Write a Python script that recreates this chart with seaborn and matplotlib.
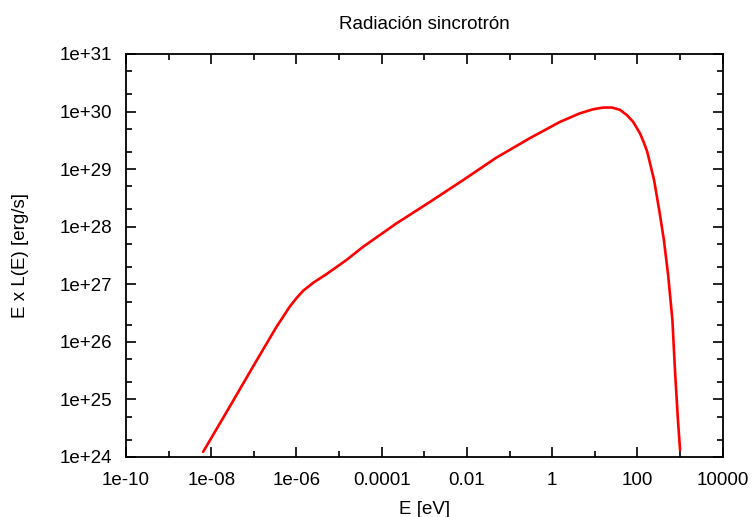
import numpy as np
import pandas as pd
import matplotlib
matplotlib.use("Agg")
import matplotlib.pyplot as plt
import matplotlib.ticker as mticker
import seaborn as sns

# --- data (log10 values) ---
log_E = [-8.19, -7.57, -7.02, -6.47, -6.16, -6.00, -5.84, -5.60, -5.29, -4.83,
         -4.44, -3.65, -2.87, -2.09, -1.31, -0.52, 0.18, 0.65, 0.96, 1.20, 1.40,
         1.59, 1.75, 1.90, 2.06, 2.14, 2.23, 2.39, 2.51, 2.62, 2.72, 2.82, 2.88,
         2.95, 3.00]
log_EL = [24.09, 24.87, 25.57, 26.26, 26.61, 26.76, 26.89, 27.03, 27.18, 27.42,
          27.65, 28.06, 28.43, 28.81, 29.20, 29.54, 29.82, 29.97, 30.04, 30.07, 30.07,
          30.03, 29.94, 29.82, 29.62, 29.48, 29.30, 28.81, 28.29, 27.77, 27.16, 26.38, 25.51,
          24.64, 24.12]

x_ticks = [1e-10, 1e-8, 1e-6, 1e-4, 1e-2, 1, 1e2, 1e4]
x_tick_labels = ["1e-10", "1e-08", "1e-06", "0.0001", "0.01", "1", "100", "10000"]
x_minor_ticks = [1e-9, 1e-7, 1e-5, 1e-3, 1e-1, 1e1, 1e3]
y_ticks = [1e24, 1e25, 1e26, 1e27, 1e28, 1e29, 1e30, 1e31]
y_tick_labels = ["1e+24", "1e+25", "1e+26", "1e+27", "1e+28", "1e+29", "1e+30", "1e+31"]

title = "Radiación sincrotrón"
xlabel = "E [eV]"
ylabel = "E x L(E) [erg/s]"

df = pd.DataFrame({"E": 10 ** np.array(log_E), "EL": 10 ** np.array(log_EL)})

sns.set_theme(style="white")
plt.rcParams["font.family"] = ["Liberation Sans", "DejaVu Sans"]

fig = plt.figure(figsize=(7.54, 5.17), dpi=100)
ax = fig.add_axes([126 / 754, (517 - 457) / 517, (722.7 - 126) / 754, (457 - 54) / 517])

sns.lineplot(data=df, x="E", y="EL", ax=ax, color="#ff0000", linewidth=1.9,
             sort=False, estimator=None)

ax.set_xscale("log")
ax.set_yscale("log")
ax.set_xlim(1e-10, 1e4)
ax.set_ylim(1e24, 1e31)

ax.xaxis.set_major_locator(mticker.FixedLocator(x_ticks))
ax.xaxis.set_major_formatter(mticker.FixedFormatter(x_tick_labels))
ax.xaxis.set_minor_locator(mticker.FixedLocator(x_minor_ticks))
ax.xaxis.set_minor_formatter(mticker.NullFormatter())

ax.yaxis.set_major_locator(mticker.FixedLocator(y_ticks))
ax.yaxis.set_major_formatter(mticker.FixedFormatter(y_tick_labels))
ax.yaxis.set_minor_locator(mticker.LogLocator(base=10, subs=(2.0, 5.0), numticks=50))
ax.yaxis.set_minor_formatter(mticker.NullFormatter())

ax.tick_params(which="both", direction="in", top=True, right=True,
               bottom=True, left=True, color="black", width=1.2)
ax.tick_params(which="major", length=7, labelsize=13.5, labelcolor="black")
ax.tick_params(axis="x", which="major", pad=10.5)
ax.tick_params(axis="y", which="major", pad=10)
ax.tick_params(which="minor", length=4)

for s in ax.spines.values():
    s.set_color("black")
    s.set_linewidth(1.3)

ax.set_xlabel(xlabel, fontsize=13.5, color="black", labelpad=9)
ax.set_ylabel(ylabel, fontsize=13.5, color="black", labelpad=22)
ax.set_title(title, fontsize=13.5, color="black", pad=18)

fig.savefig("out.png", dpi=100)
